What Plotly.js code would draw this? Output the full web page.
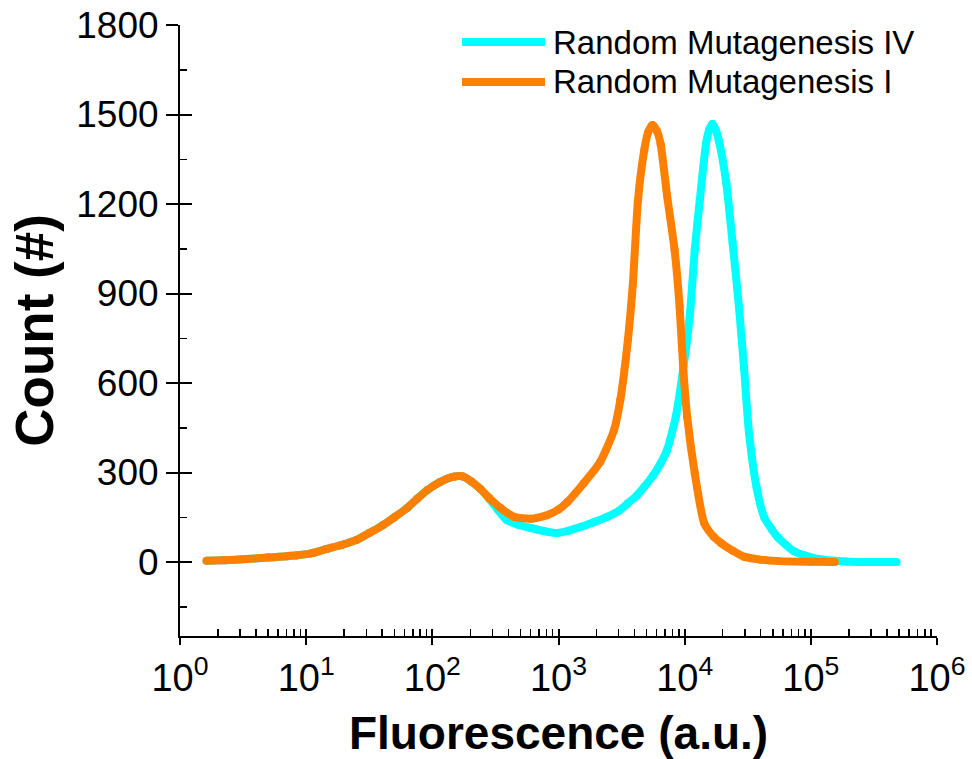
<!DOCTYPE html>
<html>
<head>
<meta charset="utf-8">
<script src="https://cdn.plot.ly/plotly-3.0.1.min.js"></script>
<style>html,body{margin:0;padding:0;background:#fff;}#chart{width:972px;height:759px;}</style>
</head>
<body>
<div id="chart"></div>
<script>
// Random Mutagenesis I (orange)
const fluorI = [1.62, 2.24, 3.39, 5.01, 8.51, 11.2, 14.6, 19.1, 25.1, 31.6, 40.7, 50.1, 63.1, 75.9, 91.2, 115, 148, 174, 204, 240, 282, 347, 447, 603, 813, 1000, 1175, 1585, 2138, 2754, 3090, 3548, 3890, 4266, 4786, 5129, 5559, 6026, 6457, 7244, 8318, 9120, 9772, 10470, 12020, 14290, 16980, 19500, 23990, 29510, 39810, 54950, 100000, 154900];
const countI = [4, 6, 10, 15, 23, 30, 44, 57, 74, 97, 124, 150, 181, 212, 241, 268, 286, 287, 270, 245, 215, 181, 151, 145, 157, 176, 201, 264, 335, 442, 543, 744, 935, 1213, 1381, 1440, 1465, 1445, 1400, 1230, 1046, 855, 640, 487, 298, 130, 85, 63, 38, 18, 8, 3, 1, 0];

// Random Mutagenesis IV (cyan)
const fluorIV = [1.62, 2.24, 3.39, 5.01, 8.51, 11.2, 14.6, 19.1, 25.1, 31.6, 40.7, 50.1, 63.1, 75.9, 91.2, 115, 148, 174, 204, 240, 282, 331, 389, 479, 603, 759, 977, 1202, 1514, 1905, 2455, 3020, 3548, 4169, 4786, 5623, 6457, 7244, 8511, 9550, 10960, 12020, 13180, 14790, 15670, 16600, 17580, 18620, 21380, 23990, 26920, 29510, 32360, 37150, 42660, 48980, 54950, 74130, 114800, 186200, 281800, 478600];
const countIV = [4, 6, 10, 15, 23, 30, 44, 57, 74, 97, 124, 150, 181, 212, 241, 268, 286, 287, 270, 245, 212, 175, 141, 125, 114, 104, 97, 105, 118, 133, 152, 172, 197, 222, 252, 290, 331, 375, 487, 621, 822, 1046, 1213, 1404, 1450, 1468, 1450, 1414, 1270, 1069, 856, 655, 432, 250, 150, 110, 82, 35, 10, 2, 0, 0];

const seriesNames = ['Random Mutagenesis IV', 'Random Mutagenesis I'];
const seriesColors = ['#00FFFF', '#FF8000'];

const yTickVals = [0, 300, 600, 900, 1200, 1500, 1800];
const xTickVals = [1, 10, 100, 1000, 10000, 100000, 1000000];
const xTickText = ['10<sup>0</sup>', '10<sup>1</sup>', '10<sup>2</sup>', '10<sup>3</sup>', '10<sup>4</sup>', '10<sup>5</sup>', '10<sup>6</sup>'];

const FONT = 'Liberation Sans, Arial, Helvetica, sans-serif';

const traces = [
  {x: fluorIV, y: countIV, name: seriesNames[0], type: 'scatter', mode: 'lines+markers',
   line: {color: seriesColors[0], width: 8, shape: 'spline', smoothing: 0.6},
   marker: {color: seriesColors[0], size: 8}},
  {x: fluorI, y: countI, name: seriesNames[1], type: 'scatter', mode: 'lines+markers',
   line: {color: seriesColors[1], width: 8, shape: 'spline', smoothing: 0.6},
   marker: {color: seriesColors[1], size: 8}},
  // empty trace that only activates the overlay axes (inside/minor ticks)
  {x: [], y: [], xaxis: 'x2', yaxis: 'y2', type: 'scatter', mode: 'markers', showlegend: false, hoverinfo: 'skip'}
];

const legX0 = (462 - 180) / 757, legX1 = (545 - 180) / 757, legTX = (551 - 180) / 757;
const legY = [(636 - 42) / 611, (636 - 82) / 611];

const layout = {
  width: 972, height: 759,
  margin: {l: 180, r: 35, t: 25, b: 123},
  paper_bgcolor: '#ffffff', plot_bgcolor: '#ffffff',
  showlegend: false,
  font: {family: FONT, color: '#000'},
  xaxis: {
    type: 'log', range: [0, 6], tickvals: xTickVals, ticktext: xTickText,
    showgrid: false, zeroline: false, showline: true, linecolor: '#000', linewidth: 2,
    ticks: 'outside', ticklen: 7, tickwidth: 2, tickcolor: '#000',
    tickfont: {family: FONT, size: 38, color: '#000'},
    title: {text: 'Fluorescence (a.u.)', standoff: 20, font: {family: FONT, size: 46, weight: 'bold', color: '#000'}}
  },
  xaxis2: {
    type: 'log', range: [0, 6], dtick: 1, overlaying: 'x', anchor: 'y',
    showgrid: false, zeroline: false, showline: false, showticklabels: false,
    ticks: 'inside', ticklen: 7, tickwidth: 2, tickcolor: '#000',
    minor: {ticks: 'inside', ticklen: 7, tickwidth: 1.5, tickcolor: '#000', dtick: 'D1', showgrid: false}
  },
  yaxis: {
    range: [-248, 1800], tickvals: yTickVals, ticktext: yTickVals.map(String),
    showgrid: false, zeroline: false, showline: true, linecolor: '#000', linewidth: 2,
    ticks: 'outside', ticklen: 12, tickwidth: 2, tickcolor: '#000',
    tickfont: {family: FONT, size: 37, color: '#000'},
    title: {text: 'Count (#)', standoff: 6, font: {family: FONT, size: 53, weight: 'bold', color: '#000'}}
  },
  yaxis2: {
    range: [-248, 1800], overlaying: 'y', anchor: 'x', side: 'left', tick0: 0, dtick: 300,
    showgrid: false, zeroline: false, showline: false, showticklabels: false,
    ticks: 'inside', ticklen: 12, tickwidth: 2, tickcolor: '#000',
    minor: {ticks: 'inside', ticklen: 7, tickwidth: 1.5, tickcolor: '#000', dtick: 150, tick0: 0, showgrid: false}
  },
  shapes: [
    {type: 'line', xref: 'paper', yref: 'paper', x0: legX0, x1: legX1, y0: legY[0], y1: legY[0], line: {color: seriesColors[0], width: 8}},
    {type: 'line', xref: 'paper', yref: 'paper', x0: legX0, x1: legX1, y0: legY[1], y1: legY[1], line: {color: seriesColors[1], width: 8}}
  ],
  annotations: [
    {xref: 'paper', yref: 'paper', x: legTX, y: legY[0], xanchor: 'left', yanchor: 'middle', showarrow: false, text: seriesNames[0], font: {family: FONT, size: 33, color: '#000'}},
    {xref: 'paper', yref: 'paper', x: legTX, y: legY[1], xanchor: 'left', yanchor: 'middle', showarrow: false, text: seriesNames[1], font: {family: FONT, size: 33, color: '#000'}}
  ]
};

Plotly.newPlot('chart', traces, layout, {displayModeBar: false, staticPlot: true});
</script>
</body>
</html>
